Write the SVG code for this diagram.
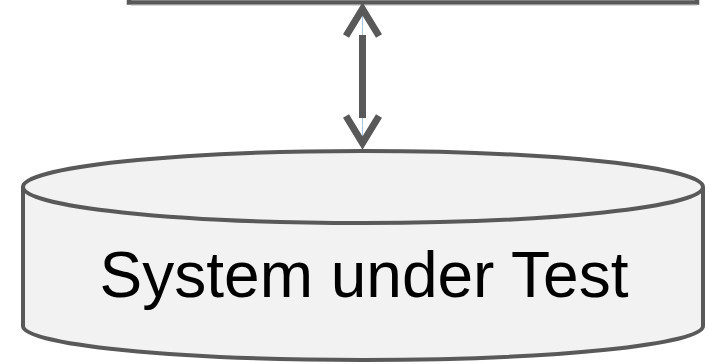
<svg xmlns="http://www.w3.org/2000/svg" width="708" height="364" viewBox="0 0 708 364">
<style>
.cyl{fill:#f2f2f2;stroke:#595959;stroke-width:4}
.head{fill:none;stroke:#595959;stroke-width:7;stroke-linecap:butt;stroke-linejoin:miter}
.label{font-family:"Liberation Sans",Arial,sans-serif;font-size:64px;fill:#000}
</style>
<rect width="708" height="364" fill="#ffffff"/>
<g id="top-box">
<rect x="129" y="-40" width="568" height="42.5" fill="#ffffff" stroke="#595959" stroke-width="4.5"/>
<line x1="131" y1="5" x2="697" y2="5" stroke="#b0b0b0" stroke-width="1"/>
</g>
<g id="connectors">
<line x1="362.5" y1="6" x2="362.5" y2="148" stroke="#a9c4dc" stroke-width="1"/>
<rect x="359" y="35" width="7" height="83" fill="#595959"/>
<polyline class="head" points="346,36 362.5,9 379,36"/>
<polyline class="head" points="346,116 362.5,143 379,116"/>
</g>
<g id="system-under-test">
<path class="cyl" d="M23,187 L23,326 A340,34 0 0 0 703,326 L703,187"/>
<ellipse class="cyl" cx="363" cy="187" rx="340" ry="36"/>
<text class="label" x="364" y="297" text-anchor="middle">System under Test</text>
</g>
</svg>
